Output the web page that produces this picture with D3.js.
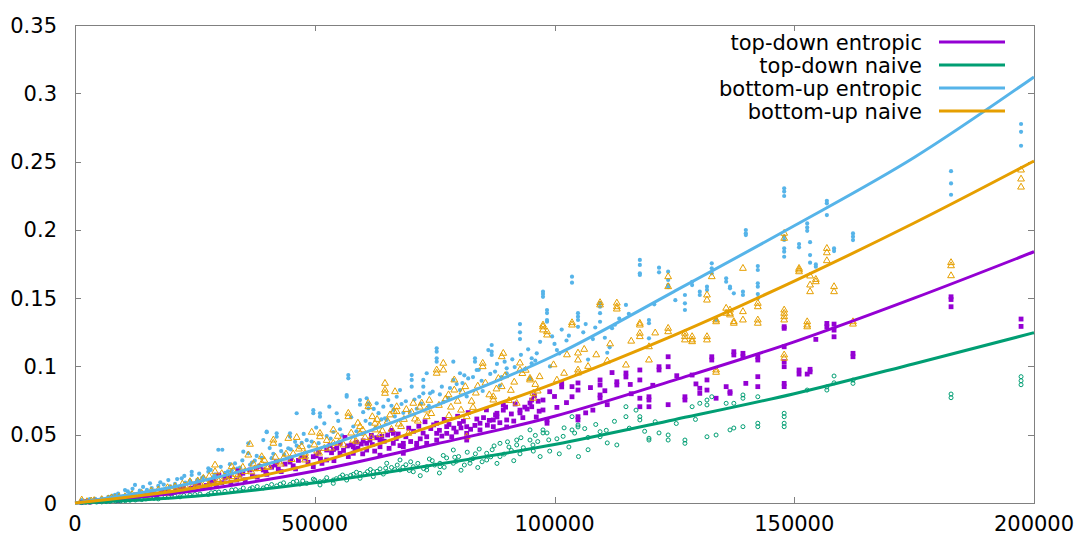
<!DOCTYPE html>
<html>
<head>
<meta charset="utf-8">
<script src="https://cdn.jsdelivr.net/npm/d3@7"></script>
<style>
    body { margin: 0; background: #fff; }
    svg text { font-family: "DejaVu Sans", sans-serif; fill: #000; }
</style>
</head>
<body>
<div id="chart"></div>
<script>
// fitted curves at these sizes
var fitX = [0, 25000, 50000, 75000, 100000, 125000, 150000, 175000, 200000];
var tdEntropicFit = [0, 0.009, 0.0235, 0.043, 0.0635, 0.090, 0.118, 0.150, 0.184];
var tdNaiveFit = [0, 0.005, 0.0148, 0.028, 0.0428, 0.061, 0.080, 0.102, 0.1247];
var buEntropicFit = [0, 0.015, 0.039, 0.071, 0.108, 0.155, 0.203, 0.253, 0.312];
var buNaiveFit = [0, 0.011, 0.029, 0.057, 0.0876, 0.123, 0.1625, 0.205, 0.2504];

var xTicks = [0, 50000, 100000, 150000, 200000];
var yTicks = [0, 0.05, 0.1, 0.15, 0.2, 0.25, 0.3, 0.35];
var yTickLabels = ['0', '0.05', '0.1', '0.15', '0.2', '0.25', '0.3', '0.35'];

var seriesNames = ['top-down entropic', 'top-down naive', 'bottom-up entropic', 'bottom-up naive'];

// measured runs [size, seconds]
var buEntropic = [
    [1400,0.0022],[2100,0.0015],[3100,0.0028],[4200,0.0031],[5570,0.0034],[6950,0.0045],[7800,0.0052],
    [8340,0.0059],[9000,0.0068],[9500,0.004],[10430,0.0095],[11000,0.0085],[11470,0.007],[12000,0.0104],
    [12510,0.0132],[13500,0.009],[14200,0.0118],[15000,0.0096],[15640,0.0144],[16000,0.011],[17370,0.0125],
    [17800,0.0152],[18500,0.0135],[19460,0.0168],[19800,0.0121],[20860,0.014],[21300,0.0175],[22250,0.0181],
    [22800,0.0198],[23000,0.015],[24000,0.0162],[24340,0.0229],[24340,0.0205],[25500,0.017],[25900,0.0215],
    [26500,0.0185],[26760,0.019],[27800,0.0254],[27800,0.0229],[28300,0.0242],[29000,0.0196],[29200,0.021],
    [29890,0.039],[30400,0.0265],[30720,0.039],[31280,0.022],[31900,0.0232],[32300,0.0284],[32680,0.024],
    [33370,0.029],[33800,0.0251],[34410,0.026],[34900,0.0312],[35100,0.0376],[36140,0.0437],[36140,0.0364],
    [36500,0.028],[36900,0.0296],[37500,0.031],[37900,0.0345],[38400,0.0278],[38940,0.033],[39270,0.0461],
    [39980,0.0522],[39980,0.0518],[40600,0.0402],[41000,0.0328],[41360,0.036],[42060,0.051],[42060,0.0485],
    [42800,0.0425],[43000,0.038],[43600,0.0356],[44480,0.040],[44840,0.051],[44840,0.0485],[45000,0.0392],
    [45900,0.0448],[46230,0.0657],[46230,0.042],[47280,0.044],[47700,0.0506],[48320,0.046],[48800,0.0415],
    [49360,0.045],[49700,0.068],[49700,0.0657],[50300,0.0552],[50800,0.0438],[51090,0.0657],[51090,0.0632],
    [52000,0.0583],[52490,0.049],[53040,0.0705],[53300,0.0472],[53870,0.052],[54580,0.0657],[54900,0.0601],
    [55270,0.054],[55700,0.0495],[56660,0.079],[56660,0.0778],[57000,0.0937],[57000,0.0913],[57600,0.0628],
    [58040,0.056],[58700,0.0525],[59440,0.0754],[59440,0.072],[60100,0.0665],[60600,0.0602],[60830,0.0767],
    [61170,0.073],[61170,0.0693],[61520,0.058],[62300,0.0689],[62700,0.0552],[62920,0.073],[63300,0.0658],
    [63900,0.0612],[64300,0.0705],[64650,0.062],[65010,0.0608],[65340,0.0754],[66000,0.0712],[66400,0.0682],
    [66700,0.0634],[67090,0.0778],[67780,0.0827],[68100,0.0725],[68470,0.066],[69000,0.0745],[69800,0.0668],
    [70220,0.0937],[70220,0.0901],[70220,0.0852],[70800,0.0758],[71260,0.069],[71800,0.0778],[72200,0.0728],
    [72640,0.0901],[72640,0.0852],[72640,0.0803],[73350,0.095],[73800,0.0712],[74040,0.0803],[74600,0.0815],
    [75430,0.1133],[75430,0.1108],[75430,0.106],[75430,0.1035],[76100,0.0795],[76500,0.0852],[76810,0.074],
    [77800,0.0768],[78200,0.0842],[78900,0.1035],[78900,0.0901],[79600,0.0871],[80290,0.095],[80290,0.0827],
    [80800,0.0878],[81200,0.0935],[81690,0.078],[82000,0.0912],[83000,0.0922],[83420,0.106],[83420,0.1035],
    [83770,0.0974],[84200,0.0975],[84800,0.0895],[85030,0.082],[86200,0.112],[86600,0.0945],[86900,0.1157],
    [86900,0.1108],[86900,0.1084],[87600,0.0962],[88000,0.1018],[88630,0.086],[89000,0.0922],[89600,0.1035],
    [90030,0.0986],[90030,0.095],[91200,0.1052],[91700,0.0995],[92800,0.131],[92800,0.125],[92800,0.12],
    [93000,0.1085],[93900,0.0982],[94500,0.1125],[94890,0.091],[95240,0.106],[95240,0.1023],[96000,0.1042],
    [96300,0.1096],[97000,0.118],[97600,0.1547],[97600,0.153],[97600,0.151],[98440,0.1413],[98440,0.1391],
    [98440,0.134],[98440,0.1327],[99060,0.1],[99500,0.122],[100000,0.1165],[100500,0.112],[101000,0.1095],
    [101500,0.127],[102500,0.119],[103000,0.1225],[103650,0.1657],[103650,0.1613],[104900,0.139],
    [104900,0.1364],[104900,0.134],[104900,0.129],[106000,0.125],[106500,0.131],[107000,0.105],[108000,0.12],
    [108500,0.1285],[109500,0.1464],[109500,0.1437],[109500,0.139],[109500,0.1327],[110500,0.121],
    [111000,0.11],[111500,0.114],[112000,0.128],[112600,0.1305],[113500,0.135],[114900,0.145],[115500,0.1385],
    [117800,0.178],[117800,0.1743],[117800,0.1682],[117800,0.167],[119700,0.134],[119700,0.1316],
    [119700,0.1206],[120800,0.1455],[121800,0.1723],[121800,0.1689],[123700,0.1694],[123700,0.1633],
    [123700,0.1596],[123700,0.158],[125200,0.1485],[127200,0.1523],[127200,0.1462],[127200,0.1413],
    [128700,0.162],[128700,0.1596],[130300,0.1547],[130300,0.1523],[131800,0.1584],[131800,0.156],
    [132800,0.1755],[132800,0.1719],[132800,0.1682],[133700,0.134],[135800,0.1645],[135800,0.162],
    [136600,0.1584],[136600,0.1572],[137400,0.1535],[139300,0.1547],[139300,0.1523],[139900,0.1999],
    [139900,0.1975],[139900,0.1962],[142400,0.1735],[142400,0.1706],[142400,0.1609],[142400,0.1584],
    [142400,0.153],[142400,0.1499],[147900,0.2304],[147900,0.228],[147900,0.2248],[147900,0.195],
    [147900,0.1926],[147900,0.1865],[147900,0.184],[147900,0.1803],[151000,0.1896],[151000,0.1872],
    [152700,0.2047],[152700,0.2018],[152700,0.1993],[153300,0.191],[153300,0.1815],[153300,0.176],
    [154500,0.1747],[154500,0.173],[156800,0.2213],[156800,0.2194],[156800,0.2108],[158300,0.1864],
    [158300,0.1845],[162250,0.1974],[162250,0.195],[162250,0.1925],[182700,0.243],[182700,0.234],
    [182700,0.2257],[197300,0.2775],[197300,0.2718],[197300,0.2616]
];

var tdEntropic = [
    [1400,0.0005],[2500,0.0009],[3100,0.0007],[4400,0.0016],[5000,0.0012],[6200,0.0019],[7300,0.0022],
    [8200,0.0028],[9000,0.0018],[10000,0.0036],[11470,0.0044],[12200,0.0048],[13000,0.003],[14300,0.0058],
    [15640,0.0073],[16300,0.0068],[17000,0.0055],[18000,0.0078],[18770,0.0088],[19300,0.0096],[20000,0.007],
    [21000,0.0092],[21900,0.011],[22600,0.0118],[23000,0.009],[24200,0.0108],[25030,0.0132],[25800,0.0145],
    [26500,0.011],[27400,0.0128],[28150,0.0154],[29000,0.0162],[29500,0.013],[30000,0.0205],[30600,0.0148],
    [31280,0.0183],[32200,0.0192],[32500,0.015],[33700,0.0168],[34000,0.0235],[34410,0.0205],[35000,0.0218],
    [35500,0.017],[36500,0.0242],[37000,0.0198],[37800,0.0252],[38000,0.019],[38600,0.0268],[39270,0.0242],
    [39800,0.0228],[40000,0.021],[41000,0.0262],[41710,0.0278],[42000,0.0302],[42400,0.0248],[43000,0.023],
    [43800,0.0285],[44840,0.03],[45000,0.0322],[45500,0.0272],[46000,0.025],[46600,0.0312],[47200,0.0348],
    [47970,0.033],[48600,0.0298],[49700,0.0339],[49700,0.0266],[50300,0.0345],[50800,0.0372],[51200,0.0322],
    [51500,0.029],[52490,0.0388],[52490,0.0315],[53180,0.042],[53500,0.0368],[53900,0.0392],[54000,0.031],
    [54600,0.0402],[55270,0.0437],[55270,0.0364],[56000,0.0385],[56310,0.048],[56800,0.0418],[57000,0.034],
    [57600,0.0425],[58040,0.0412],[58040,0.0364],[58390,0.039],[58700,0.0445],[59000,0.0402],[59700,0.0432],
    [60000,0.036],[60100,0.0455],[60830,0.0437],[60830,0.0388],[61520,0.046],[61800,0.0495],[62000,0.0428],
    [62500,0.038],[62900,0.0478],[63610,0.0461],[63610,0.0412],[63610,0.035],[64000,0.0488],[64500,0.0452],
    [65200,0.0498],[65500,0.04],[66000,0.0532],[66380,0.051],[66380,0.0437],[67000,0.0472],[67400,0.0505],
    [67780,0.042],[68470,0.0437],[68470,0.0412],[68470,0.0364],[69000,0.0485],[69600,0.0548],[70000,0.045],
    [70600,0.0525],[71260,0.0437],[71260,0.0412],[71700,0.0562],[72000,0.047],[72600,0.0512],[73000,0.0595],
    [73350,0.0485],[73350,0.0437],[74200,0.0545],[74800,0.0572],[75430,0.0584],[75430,0.051],[75430,0.0461],
    [76000,0.0532],[76500,0.049],[77000,0.0612],[77520,0.0559],[77520,0.051],[78000,0.0575],[78560,0.0485],
    [79000,0.0548],[79500,0.052],[79800,0.0635],[80200,0.0582],[80500,0.055],[81000,0.0598],[81690,0.0559],
    [81690,0.051],[81690,0.0461],[82000,0.0662],[82500,0.054],[83400,0.0568],[83800,0.0615],[84460,0.0584],
    [84460,0.0535],[85200,0.0625],[85800,0.0682],[86000,0.057],[86400,0.0605],[87240,0.0608],[87240,0.0559],
    [87700,0.0645],[88000,0.0657],[88000,0.063],[88600,0.0588],[89320,0.0718],[89320,0.068],[89800,0.0702],
    [90030,0.0608],[90030,0.0557],[91000,0.0652],[91500,0.06],[91800,0.0725],[92800,0.068],[92800,0.066],
    [93400,0.0625],[93800,0.0702],[94300,0.0688],[94890,0.0732],[95240,0.0754],[95240,0.0705],[95800,0.0785],
    [96200,0.063],[96600,0.0745],[96800,0.0672],[97600,0.0754],[97600,0.0681],[98440,0.0608],[98440,0.0584],
    [99000,0.0815],[100000,0.078],[100500,0.07],[101500,0.0876],[101500,0.085],[102500,0.0735],
    [103650,0.0852],[103650,0.0778],[104900,0.0879],[104900,0.0827],[104900,0.0632],[104900,0.0608],
    [106500,0.066],[107500,0.0845],[108000,0.068],[109500,0.0901],[109500,0.0864],[109500,0.0791],
    [109500,0.0769],[110500,0.0822],[111000,0.072],[112000,0.0955],[113000,0.0888],[113000,0.0864],
    [114900,0.0952],[114900,0.0923],[115800,0.0868],[116000,0.08],[117800,0.0974],[117800,0.0901],
    [117800,0.0767],[117800,0.0705],[119700,0.0778],[119700,0.0754],[119700,0.0705],[120500,0.0862],
    [121800,0.0998],[121800,0.0974],[123700,0.1071],[123700,0.0998],[123700,0.072],[125500,0.0932],
    [127200,0.0778],[127200,0.0754],[128700,0.0937],[129500,0.0872],[130300,0.084],[130300,0.0803],
    [131800,0.0901],[131800,0.0827],[132800,0.1071],[132800,0.1047],[133700,0.0767],[135800,0.0852],
    [136600,0.0815],[136600,0.0803],[137400,0.1108],[137400,0.1084],[139300,0.1096],[139300,0.1071],
    [139900,0.0876],[142400,0.1071],[142400,0.1047],[142400,0.0925],[142400,0.0852],[147900,0.1291],
    [147900,0.1279],[147900,0.1144],[147900,0.1035],[147900,0.0998],[147900,0.0876],[147900,0.0852],
    [151000,0.0974],[151000,0.0944],[152700,0.0944],[153300,0.0979],[153300,0.096],[154500,0.1198],
    [156800,0.1315],[156800,0.129],[158300,0.131],[158300,0.1266],[158300,0.1217],[162250,0.1096],
    [162250,0.1071],[182700,0.151],[182700,0.149],[182700,0.1437],[197300,0.1347],[197300,0.1293]
];

var tdNaive = [
    [1400,0.0003],[2200,0.0004],[3100,0.0005],[4500,0.0007],[5570,0.0008],[6500,0.001],[7300,0.0012],
    [8500,0.0014],[9500,0.0015],[10500,0.0017],[11470,0.002],[12600,0.0022],[13910,0.0025],[14800,0.003],
    [15640,0.0037],[16500,0.0034],[17370,0.003],[18770,0.0042],[19500,0.0045],[20860,0.005],[21900,0.0045],
    [22700,0.0055],[23980,0.0058],[25000,0.0062],[26070,0.0066],[27800,0.0062],[28400,0.0075],[29200,0.0078],
    [30000,0.008],[31280,0.0085],[32680,0.0095],[33500,0.0098],[34410,0.009],[35100,0.011],[36500,0.0103],
    [37000,0.0112],[38000,0.012],[39270,0.011],[40000,0.0122],[41000,0.0135],[42060,0.0125],[42800,0.0138],
    [43500,0.0148],[44840,0.0135],[45500,0.0152],[46230,0.016],[46920,0.0139],[47500,0.0162],[48320,0.0144],
    [49700,0.0175],[50000,0.0168],[51090,0.0156],[51090,0.0132],[52000,0.0162],[52490,0.0185],[53870,0.0168],
    [53870,0.0144],[54500,0.0178],[55270,0.019],[55800,0.0205],[56660,0.0193],[56660,0.0168],[57500,0.0202],
    [58040,0.021],[58700,0.0225],[59440,0.0217],[59440,0.0181],[60500,0.0212],[61000,0.023],[61600,0.0245],
    [62210,0.0229],[62210,0.0193],[63000,0.0232],[63610,0.025],[64300,0.0212],[64800,0.0255],[65010,0.0291],
    [65010,0.0229],[66000,0.026],[66700,0.0245],[67200,0.0278],[67780,0.0315],[67780,0.0242],[68400,0.0262],
    [69000,0.028],[69700,0.0238],[70000,0.0302],[70550,0.0266],[70550,0.0229],[71500,0.029],[72000,0.02],
    [72700,0.0252],[73350,0.0266],[73350,0.0242],[73900,0.0322],[74500,0.031],[75000,0.0278],[76000,0.022],
    [76120,0.0291],[76120,0.0266],[76800,0.0348],[77000,0.0262],[77500,0.033],[78900,0.0388],[78900,0.0291],
    [79200,0.0335],[79500,0.0305],[80000,0.034],[80500,0.024],[81200,0.0278],[81800,0.0372],[82380,0.0315],
    [82380,0.0291],[83000,0.0325],[83500,0.036],[84000,0.026],[84300,0.0395],[84900,0.0302],[85860,0.0364],
    [85860,0.0315],[86700,0.0338],[87000,0.039],[87400,0.0418],[88000,0.029],[88630,0.0437],[88630,0.034],
    [89500,0.0358],[90200,0.0448],[90500,0.041],[91000,0.0385],[91500,0.031],[92120,0.0461],[92120,0.0425],
    [92800,0.036],[93000,0.0478],[93500,0.0405],[94890,0.0535],[94890,0.0461],[95500,0.0425],[95580,0.038],
    [96000,0.0495],[96500,0.045],[97000,0.034],[97600,0.0535],[97600,0.0513],[98440,0.0513],[98800,0.0462],
    [99000,0.038],[100500,0.047],[101000,0.036],[101800,0.0488],[102000,0.055],[103000,0.041],[103650,0.0632],
    [103650,0.0535],[104200,0.0512],[104900,0.0571],[104900,0.0557],[105000,0.034],[106300,0.0545],
    [107000,0.048],[107000,0.039],[108600,0.0575],[109500,0.0522],[109500,0.0485],[110800,0.0532],
    [111000,0.044],[112500,0.0598],[113000,0.0425],[114900,0.0705],[114900,0.0632],[115600,0.0548],
    [117000,0.068],[117800,0.0632],[117800,0.0608],[118800,0.0525],[119700,0.0474],[119700,0.0461],
    [121000,0.0595],[121800,0.0513],[123700,0.0498],[123700,0.0461],[125400,0.0582],[127200,0.0461],
    [127200,0.0437],[128700,0.0705],[129400,0.0612],[130300,0.073],[131800,0.0754],[131800,0.0718],
    [131800,0.0485],[132800,0.0778],[133700,0.0498],[135800,0.073],[136600,0.0535],[137400,0.073],
    [137400,0.0549],[139300,0.0791],[139300,0.0767],[139300,0.0559],[142400,0.0778],[142400,0.0584],
    [142400,0.0559],[147900,0.0657],[147900,0.0632],[147900,0.0584],[147900,0.0559],[152700,0.0827],
    [156800,0.085],[156800,0.0827],[158300,0.093],[158300,0.088],[162250,0.09],[162250,0.0876],
    [182700,0.0798],[182700,0.0771],[197300,0.0925],[197300,0.0895],[197300,0.0866]
];

var buNaive = [
    [1400,0.0022],[2500,0.001],[3400,0.0015],[4000,0.0018],[5570,0.0025],[6950,0.003],[7600,0.0038],
    [8340,0.0035],[9200,0.0042],[10430,0.0046],[11470,0.0035],[11900,0.0062],[12510,0.005],[13910,0.0071],
    [14600,0.0058],[15000,0.005],[15900,0.0088],[16500,0.0075],[17370,0.0095],[18000,0.0082],[18770,0.007],
    [19300,0.0112],[20000,0.0105],[20860,0.0119],[21000,0.0098],[21900,0.009],[22400,0.0138],[23000,0.0125],
    [23980,0.0156],[24500,0.0121],[25030,0.011],[25600,0.0162],[26000,0.0145],[26760,0.0181],[27200,0.0148],
    [27800,0.013],[28000,0.0195],[28500,0.016],[29200,0.0278],[29200,0.0229],[29800,0.0172],[30000,0.016],
    [30600,0.0215],[31280,0.019],[31800,0.0168],[32680,0.0266],[32680,0.0193],[33000,0.0238],[33500,0.021],
    [34000,0.0205],[34410,0.018],[35000,0.0262],[35500,0.023],[36140,0.0351],[36500,0.043],[36800,0.0228],
    [37200,0.0285],[37500,0.025],[38200,0.0252],[38940,0.0339],[38940,0.029],[39500,0.0312],[40000,0.026],
    [40400,0.0268],[41360,0.0461],[41360,0.0437],[41800,0.0335],[42500,0.03],[42900,0.0285],[43500,0.033],
    [44000,0.0358],[44480,0.0473],[45200,0.0318],[45500,0.036],[46230,0.048],[46700,0.0395],[47280,0.0412],
    [47280,0.0339],[47970,0.0364],[47970,0.0315],[48000,0.0342],[49360,0.0518],[49900,0.0425],[50500,0.038],
    [50900,0.0365],[51090,0.051],[51090,0.0485],[52000,0.04],[52500,0.0458],[53400,0.0402],[53870,0.0535],
    [53870,0.0437],[54800,0.0488],[55000,0.044],[56000,0.0425],[57000,0.0657],[57000,0.0632],[57600,0.0512],
    [58000,0.046],[58600,0.0452],[59000,0.0585],[59440,0.0559],[59440,0.051],[60000,0.0535],[60500,0.048],
    [61170,0.073],[61170,0.0705],[61800,0.0478],[62000,0.0632],[62570,0.0584],[62570,0.0535],[63000,0.0612],
    [63400,0.0565],[63600,0.05],[64100,0.0528],[64650,0.0876],[64650,0.0827],[64650,0.0803],[65200,0.0598],
    [65700,0.0645],[66000,0.054],[66500,0.0672],[66740,0.0815],[67090,0.0705],[67090,0.0669],[67500,0.0578],
    [68000,0.056],[68600,0.0612],[69100,0.0685],[69510,0.051],[70200,0.0665],[70550,0.073],[70900,0.0615],
    [71500,0.06],[71900,0.0702],[72300,0.0732],[73350,0.0681],[73350,0.0632],[73900,0.0752],[74300,0.0655],
    [75430,0.0974],[75430,0.095],[75900,0.0715],[76810,0.1023],[76810,0.0974],[77300,0.0762],[77900,0.0792],
    [78000,0.064],[78400,0.0702],[79100,0.0901],[79100,0.0827],[79800,0.0745],[80500,0.068],[80800,0.0812],
    [81400,0.0852],[81690,0.0632],[81690,0.0485],[82700,0.0745],[83000,0.07],[83600,0.0805],[84000,0.0856],
    [85030,0.1023],[85030,0.0998],[85600,0.0878],[86400,0.0792],[87240,0.0778],[87240,0.0754],[87900,0.0835],
    [88300,0.0912],[88990,0.1071],[88990,0.0852],[89320,0.1096],[89700,0.0932],[90500,0.075],[90900,0.0825],
    [91600,0.0885],[92120,0.073],[92800,0.1025],[92800,0.0974],[93300,0.0948],[94000,0.0972],[94890,0.0913],
    [94890,0.0901],[95580,0.0803],[95580,0.0767],[96000,0.0868],[96500,0.082],[96900,0.0925],[97600,0.1303],
    [97600,0.129],[97600,0.1267],[98440,0.1254],[98440,0.123],[99800,0.1012],[100500,0.09],[102000,0.095],
    [102600,0.1085],[103650,0.132],[103650,0.1303],[104900,0.1098],[104900,0.1047],[104900,0.0974],
    [104900,0.0952],[106200,0.1125],[107000,0.1],[108700,0.1085],[109500,0.1467],[109500,0.145],
    [111000,0.104],[111600,0.1165],[113000,0.1464],[113000,0.1437],[113000,0.142],[114900,0.101],
    [116000,0.1185],[117800,0.1316],[117800,0.1303],[117800,0.1243],[117800,0.1218],[119700,0.1144],
    [119700,0.1047],[121000,0.1245],[123700,0.1657],[123700,0.1584],[123700,0.1279],[123700,0.1254],
    [127200,0.1243],[127200,0.1218],[127200,0.1194],[128700,0.1218],[128700,0.1194],[128700,0.1181],
    [131800,0.1523],[131800,0.1486],[131800,0.1218],[131800,0.1194],[132800,0.1657],[133700,0.134],
    [133700,0.1327],[133700,0.0974],[133700,0.0957],[135800,0.1426],[135800,0.1389],[136600,0.1413],
    [136600,0.1389],[136600,0.1377],[137400,0.1328],[137400,0.1316],[139300,0.1718],[139300,0.1401],
    [139300,0.134],[142400,0.1462],[142400,0.1437],[142400,0.134],[142400,0.1316],[147900,0.1975],
    [147900,0.1938],[147900,0.1413],[147900,0.1389],[147900,0.1364],[147900,0.134],[147900,0.1084],
    [147900,0.106],[151000,0.1718],[151000,0.1706],[151000,0.1693],[152700,0.1327],[152700,0.1303],
    [152700,0.129],[153300,0.1662],[153300,0.1596],[153300,0.1547],[154500,0.1637],[154500,0.162],
    [156800,0.1864],[156800,0.1832],[156800,0.1774],[158300,0.1584],[158300,0.1547],[162250,0.1327],
    [162250,0.131],[182700,0.176],[182700,0.1737],[182700,0.1664],[197300,0.2438],[197300,0.2372],
    [197300,0.2313]
];

function createChart() {
    var w = 1079;
    var h = 535;
    // plot box in pixels
    var left = 75, right = 1034, top = 25, bottom = 503;
    var colors = ['#9400d3', '#009e73', '#56b4e9', '#e69f00'];

    var x = d3.scaleLinear().domain([0, 200000]).range([left, right]);
    var y = d3.scaleLinear().domain([0, 0.35]).range([bottom, top]);

    var svg = d3.select('#chart')
        .append('svg')
        .attr('width', w)
        .attr('height', h);

    // border box
    svg.append('rect')
        .attr('x', left + 0.5)
        .attr('y', top + 0.5)
        .attr('width', right - left)
        .attr('height', bottom - top)
        .attr('fill', 'none')
        .attr('stroke', '#808080')
        .attr('stroke-width', 1);

    // ticks, mirrored on all four sides, pointing in
    var tickLen = 6;
    var tickG = svg.append('g').attr('stroke', '#808080').attr('stroke-width', 1);
    xTicks.forEach(function(t) {
        var px = Math.round(x(t)) + 0.5;
        tickG.append('line').attr('x1', px).attr('x2', px).attr('y1', bottom).attr('y2', bottom - tickLen);
        tickG.append('line').attr('x1', px).attr('x2', px).attr('y1', top).attr('y2', top + tickLen);
    });
    yTicks.forEach(function(t) {
        var py = Math.round(y(t)) + 0.5;
        tickG.append('line').attr('x1', left).attr('x2', left + tickLen).attr('y1', py).attr('y2', py);
        tickG.append('line').attr('x1', right).attr('x2', right - tickLen).attr('y1', py).attr('y2', py);
    });

    svg.selectAll('text.xlab')
        .data(xTicks)
        .enter()
        .append('text')
        .attr('class', 'xlab')
        .attr('x', function(d) { return x(d); })
        .attr('y', 531)
        .attr('text-anchor', 'middle')
        .attr('font-size', '21px')
        .text(function(d) { return d; });

    svg.selectAll('text.ylab')
        .data(yTicks)
        .enter()
        .append('text')
        .attr('class', 'ylab')
        .attr('x', 57)
        .attr('y', function(d) { return y(d) + 7.5; })
        .attr('text-anchor', 'end')
        .attr('font-size', '21px')
        .text(function(d, i) { return yTickLabels[i]; });

    // points: blue dots, purple squares, green rings, orange triangles
    var pts = svg.append('g');

    pts.append('g').selectAll('circle')
        .data(buEntropic)
        .enter()
        .append('circle')
        .attr('cx', function(d) { return x(d[0]); })
        .attr('cy', function(d) { return y(d[1]); })
        .attr('r', 2.1)
        .attr('fill', colors[2]);

    pts.append('g').selectAll('rect')
        .data(tdEntropic)
        .enter()
        .append('rect')
        .attr('x', function(d) { return x(d[0]) - 2.4; })
        .attr('y', function(d) { return y(d[1]) - 2.4; })
        .attr('width', 4.8)
        .attr('height', 4.8)
        .attr('fill', colors[0]);

    pts.append('g').selectAll('circle')
        .data(tdNaive)
        .enter()
        .append('circle')
        .attr('cx', function(d) { return x(d[0]); })
        .attr('cy', function(d) { return y(d[1]); })
        .attr('r', 2)
        .attr('fill', 'none')
        .attr('stroke', colors[1])
        .attr('stroke-width', 1);

    var tri = d3.symbol().type(d3.symbolTriangle).size(20);
    pts.append('g').selectAll('path')
        .data(buNaive)
        .enter()
        .append('path')
        .attr('d', tri)
        .attr('transform', function(d) { return 'translate(' + x(d[0]) + ',' + y(d[1]) + ')'; })
        .attr('fill', 'none')
        .attr('stroke', colors[3])
        .attr('stroke-width', 1);

    // fitted curves
    var fits = [tdEntropicFit, tdNaiveFit, buEntropicFit, buNaiveFit];
    var line = d3.line()
        .x(function(d, i) { return x(fitX[i]); })
        .y(function(d) { return y(d); })
        .curve(d3.curveMonotoneX);

    svg.append('g').selectAll('path')
        .data(fits)
        .enter()
        .append('path')
        .attr('d', line)
        .attr('fill', 'none')
        .attr('stroke', function(d, i) { return colors[i]; })
        .attr('stroke-width', 3);

    // legend
    var legend = svg.append('g');
    var rowY = [42, 65, 88, 111];
    seriesNames.forEach(function(name, i) {
        legend.append('text')
            .attr('x', 922)
            .attr('y', rowY[i] + 7.5)
            .attr('text-anchor', 'end')
            .attr('font-size', '21px')
            .text(name);
        legend.append('line')
            .attr('x1', 939)
            .attr('x2', 1005)
            .attr('y1', rowY[i])
            .attr('y2', rowY[i])
            .attr('stroke', colors[i])
            .attr('stroke-width', 3);
    });
}

createChart();
</script>
</body>
</html>
